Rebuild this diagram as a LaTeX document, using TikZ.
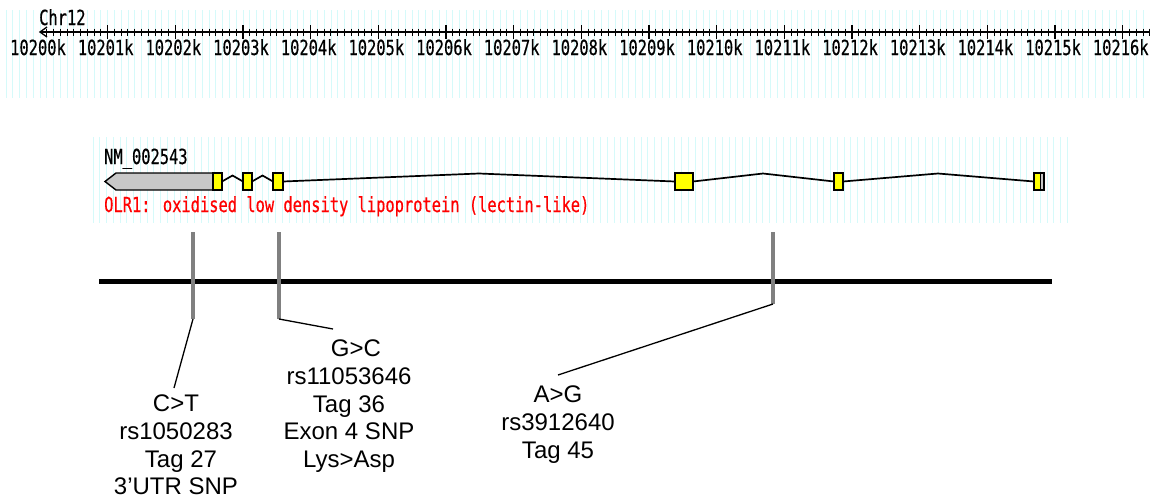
\documentclass[tikz,border=0pt]{standalone}
\usepackage{fontspec}
\usepackage{graphicx}
\setmainfont{Liberation Sans}
\newfontfamily\pixfont[FakeBold=0.6]{DejaVu Sans Mono}
\newcommand{\pxtext}[1]{\scalebox{1}[1.35]{\pixfont #1}}
\definecolor{stripecol}{RGB}{214,250,250}
\definecolor{utrgray}{RGB}{200,200,200}
\definecolor{exonyellow}{RGB}{255,255,0}
\definecolor{barGray}{RGB}{128,128,128}
\tikzset{
  stripe/.style={draw=stripecol, line width=1pt},
  pixlabel/.style={inner sep=0pt, font=\fontsize{15.4}{16}\selectfont},
  genebox/.style={draw=black, line width=1.4pt},
  intron/.style={draw=black, line width=1.7pt},
  snpbar/.style={draw=barGray, line width=3.5pt},
  leader/.style={draw=black, line width=1.3pt},
  snplabel/.style={inner sep=0pt, align=center, font=\fontsize{24}{27.6}\selectfont},
}
\begin{document}
\begin{tikzpicture}[x=1pt,y=-1pt]
\useasboundingbox (0,0) rectangle (1150,501);
\fill[white] (0,0) rectangle (1150,501);
% ---- ruler panel stripes
\foreach \i in {0,...,168} { \draw[stripe] ({6.2+\i*6.767},10) -- ({6.2+\i*6.767},98); }
% ---- gene panel stripes
\foreach \i in {0,...,144} { \draw[stripe] ({93+\i*6.767},137) -- ({93+\i*6.767},223); }
% ---- ruler
\node[pixlabel, anchor=base west] (chr) at (39,25) {\pxtext{Chr12}};
\draw[line width=1.8pt] (40,32) -- (1150,32);
\draw[line width=1.3pt] (47,27) -- (40,32) -- (47,37);
\foreach \i in {1,...,164} { \draw[line width=1pt] ({40+\i*6.767},28.5) -- ++(0,7); }
\foreach \k in {1,...,16} { \draw[line width=1.2pt] ({40+\k*67.67},25) -- ++(0,14); }
\foreach \k in {0,...,16} {
  \node[pixlabel, anchor=base] (lab\k) at ({38+\k*67.67},55) {\pxtext{\number\numexpr10200+\k\relax k}};
}
% ---- gene model
\node[pixlabel, anchor=base west] (nm) at (104,164) {\pxtext{NM\_002543}};
\draw[intron] (222,181.5) -- (232.5,175.5) -- (243,181.5);
\draw[intron] (252,181.5) -- (262.5,175.5) -- (273,181.5);
\draw[intron] (283,181.5) -- (479,173.5) -- (675,181.5);
\draw[intron] (693,181.5) -- (763,173.5) -- (834,181.5);
\draw[intron] (843,181.5) -- (938,173.5) -- (1034,181.5);
\filldraw[fill=utrgray, genebox] (105,181.5) -- (116,173) -- (213,173) -- (213,190) -- (116,190) -- cycle;
\filldraw[fill=exonyellow, genebox] (213,173) rectangle (222,190);
\filldraw[fill=exonyellow, genebox] (243,173) rectangle (252,190);
\filldraw[fill=exonyellow, genebox] (273,173) rectangle (283,190);
\filldraw[fill=exonyellow, genebox] (675,173) rectangle (693,190);
\filldraw[fill=exonyellow, genebox] (834,173) rectangle (843,190);
\fill[exonyellow] (1034,173) rectangle (1040,190);
\fill[utrgray] (1040,173) rectangle (1044,190);
\draw[genebox] (1034,173) rectangle (1044,190);
\draw[black, line width=0.8pt] (1040,173) -- (1040,190);
\node[pixlabel, anchor=base west, text=red] (olr) at (104,212) {\pxtext{OLR1: oxidised low density lipoprotein (lectin-like)}};
% ---- schematic chromosome line and SNP bars
\draw[line width=5pt] (99,281) -- (1052,281);
\coordinate (b1t) at (193,232); \coordinate (b1b) at (193,319);
\coordinate (b2t) at (279,232); \coordinate (b2b) at (279,319);
\coordinate (b3t) at (773,232); \coordinate (b3b) at (773,304);
\draw[snpbar] (b1t) -- (b1b);
\draw[snpbar] (b2t) -- (b2b);
\draw[snpbar] (b3t) -- (b3b);
% ---- labels
\node[snplabel, anchor=north] (ct) at (176,395) {C\textgreater T\\rs1050283\\\hspace*{10pt}Tag 27\\3’UTR SNP};
\node[snplabel, anchor=north] (gc) at (349,340) {\hspace*{14pt}G\textgreater C\\rs11053646\\Tag 36\\Exon 4 SNP\\Lys\textgreater Asp};
\node[snplabel, anchor=north] (ag) at (558,386) {A\textgreater G\\rs3912640\\Tag 45};
\coordinate (c1) at (174,388);
\coordinate (c2) at (333,329);
\coordinate (c3) at (558,375);
\draw[leader] (b1b) -- (c1);
\draw[leader] (b2b) -- (c2);
\draw[leader] (b3b) -- (c3);
\end{tikzpicture}
\end{document}
